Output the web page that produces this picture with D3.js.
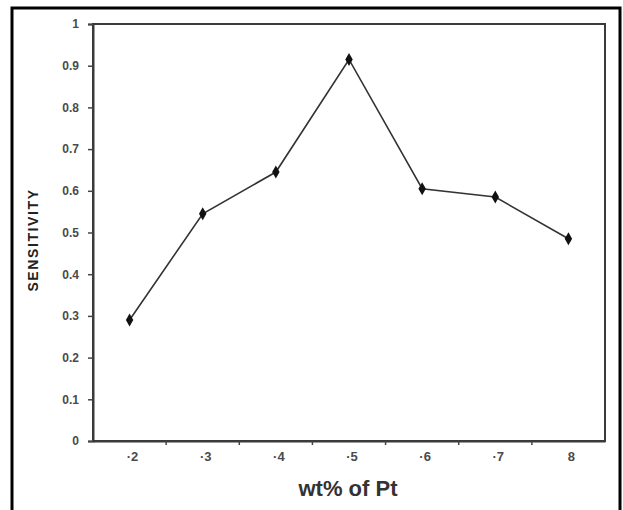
<!DOCTYPE html>
<html>
<head>
<meta charset="utf-8">
<script src="https://cdn.jsdelivr.net/npm/d3@7"></script>
<style>
  body { margin: 0; background: #fff; }
  text { font-family: "Liberation Sans", Arial, sans-serif; }
</style>
</head>
<body>
<div id="chart"></div>
<script>
/** chart data */
var categories = ["2", "3", "4", "5", "6", "7", "8"];
var tickLabels = ["\u00b72", "\u00b73", "\u00b74", "\u00b75", "\u00b76", "\u00b77", "8"];
var sensitivity = [0.29, 0.545, 0.645, 0.915, 0.605, 0.585, 0.485];
var yTicks = [0, 0.1, 0.2, 0.3, 0.4, 0.5, 0.6, 0.7, 0.8, 0.9, 1];

var W = 623, H = 510;
var margin = {top: 24, right: 18, bottom: 69, left: 93};
var width = W - margin.left - margin.right;
var height = H - margin.top - margin.bottom;

var svg = d3.select("#chart")
  .append("svg")
    .attr("width", W)
    .attr("height", H);

// outer frame (bottom edge runs off the picture)
svg.append("rect")
  .attr("x", 12)
  .attr("y", 8)
  .attr("width", 608)
  .attr("height", 520)
  .attr("fill", "none")
  .attr("stroke", "#000")
  .attr("stroke-width", 3);

var g = svg.append("g")
  .attr("transform", "translate(" + margin.left + "," + margin.top + ")");

var x = d3.scaleBand()
  .domain(categories)
  .range([0, width])
  .padding(0);

var y = d3.scaleLinear()
  .domain([0, 1])
  .range([height, 0]);

// plot box
g.append("rect")
  .attr("x", 0)
  .attr("y", 0)
  .attr("width", width)
  .attr("height", height)
  .attr("fill", "none")
  .attr("stroke", "#3a3a3a")
  .attr("stroke-width", 2);

// Y axis
var yg = g.append("g")
  .call(d3.axisLeft(y).tickValues(yTicks).tickSize(5).tickPadding(9)
    .tickFormat(function(d) { return d === 0 || d === 1 ? d : d3.format(".1f")(d); }));
yg.select(".domain").attr("stroke", "#3a3a3a").attr("stroke-width", 2);
yg.selectAll(".tick line").attr("stroke", "#444").attr("stroke-width", 1.5);
yg.selectAll(".tick text")
  .attr("fill", "#4a4a4a")
  .style("font-size", "12px")
  .style("font-weight", "bold");

// X axis: labels at band centres, tick marks at band edges
var xg = g.append("g")
  .attr("transform", "translate(0," + height + ")")
  .call(d3.axisBottom(x).tickSize(0).tickPadding(11)
    .tickFormat(function(d, i) { return tickLabels[i]; }));
xg.select(".domain").attr("stroke", "#3a3a3a").attr("stroke-width", 2);
xg.selectAll(".tick text")
  .attr("fill", "#4a4a4a")
  .attr("dx", 3)
  .style("font-size", "13px")
  .style("font-weight", "bold");

g.append("g")
  .selectAll("line")
  .data(categories.slice(1))
  .enter()
  .append("line")
    .attr("x1", function(d) { return x(d); })
    .attr("x2", function(d) { return x(d); })
    .attr("y1", height)
    .attr("y2", height + 4)
    .attr("stroke", "#444")
    .attr("stroke-width", 1.5);

// axis titles
svg.append("text")
  .attr("text-anchor", "middle")
  .attr("transform", "translate(38,240) rotate(-90)")
  .style("font-size", "14px")
  .style("font-weight", "bold")
  .style("letter-spacing", "1.6px")
  .attr("fill", "#222")
  .text("SENSITIVITY");

svg.append("text")
  .attr("text-anchor", "middle")
  .attr("x", 348)
  .attr("y", 496)
  .style("font-size", "22px")
  .style("font-weight", "bold")
  .attr("fill", "#333")
  .text("wt% of Pt");

// line
var line = d3.line()
  .x(function(d, i) { return x(categories[i]) + x.bandwidth() / 2; })
  .y(function(d) { return y(d); });

g.append("path")
  .datum(sensitivity)
  .attr("fill", "none")
  .attr("stroke", "#333")
  .attr("stroke-width", 1.6)
  .attr("d", line);

// diamond markers
g.selectAll(".marker")
  .data(sensitivity)
  .enter()
  .append("path")
    .attr("class", "marker")
    .attr("transform", function(d, i) {
      return "translate(" + (x(categories[i]) + x.bandwidth() / 2) + "," + y(d) + ")";
    })
    .attr("d", d3.symbol().type(d3.symbolDiamond).size(48))
    .attr("fill", "#111");
</script>
</body>
</html>
